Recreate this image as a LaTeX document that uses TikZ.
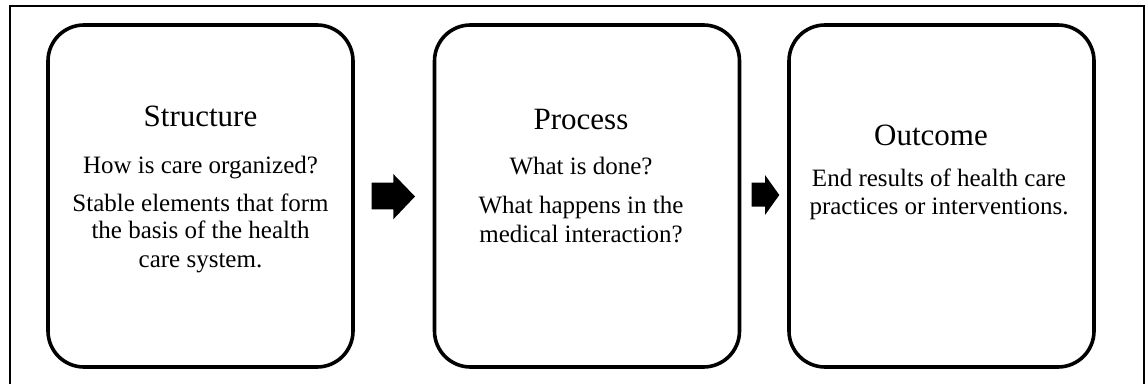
\documentclass[tikz,border=0pt]{standalone}
\usepackage{fontspec}
\setmainfont{Liberation Serif}
\begin{document}
\begin{tikzpicture}[x=1pt,y=1pt,
  stagebox/.style={draw, line width=3.6pt, rounded corners=36pt,
    minimum width=305pt, minimum height=342pt, inner sep=0pt},
  headtext/.style={anchor=base, inner sep=0pt, font=\fontsize{31}{36}\selectfont},
  bodytext/.style={anchor=base, inner sep=0pt, font=\fontsize{25}{29}\selectfont},
  blockarrow/.style={fill=black}]
\useasboundingbox (0,0) rectangle (1146,383);
% outer frame, open at the bottom
\draw[line width=2pt] (9.5,-2) |- (1143.5,376.5) -- (1143.5,-2);

% the three stages
\node[stagebox] (structure) at (200.5,187) {};
\node[stagebox] (process) at (587,187) {};
\node[stagebox] (outcome) at (941.5,187) {};

% block arrows between the stages
\fill[blockarrow] (371.7,173.7) -- (393.3,173.7) -- (393.3,163.7) -- (415,186.5)
  -- (393.3,209) -- (393.3,200.3) -- (371.7,200.3) -- cycle;
\fill[blockarrow] (751.7,176.3) -- (765,176.3) -- (765,168) -- (779.3,188)
  -- (765,208) -- (765,200.3) -- (751.7,200.3) -- cycle;

% Structure
\node[headtext] (s0) at (200.5,256.3) {Structure};
\node[bodytext] (s1) at (200.5,209.7) {How is care organized?};
\node[bodytext] (s2) at (200.5,171.3) {Stable elements that form};
\node[bodytext] (s3) at (200.5,144) {the basis of the health};
\node[bodytext] (s4) at (200.5,115.3) {care system.};

% Process
\node[headtext] (p0) at (581,253) {Process};
\node[bodytext] (p1) at (581,208) {What is done?};
\node[bodytext] (p2) at (581,169) {What happens in the};
\node[bodytext] (p3) at (581,140.3) {medical interaction?};

% Outcome
\node[headtext] (o0) at (931,237) {Outcome};
\node[bodytext] (o1) at (939,196.3) {End results of health care};
\node[bodytext] (o2) at (939,168) {practices or interventions.};
\end{tikzpicture}
\end{document}
